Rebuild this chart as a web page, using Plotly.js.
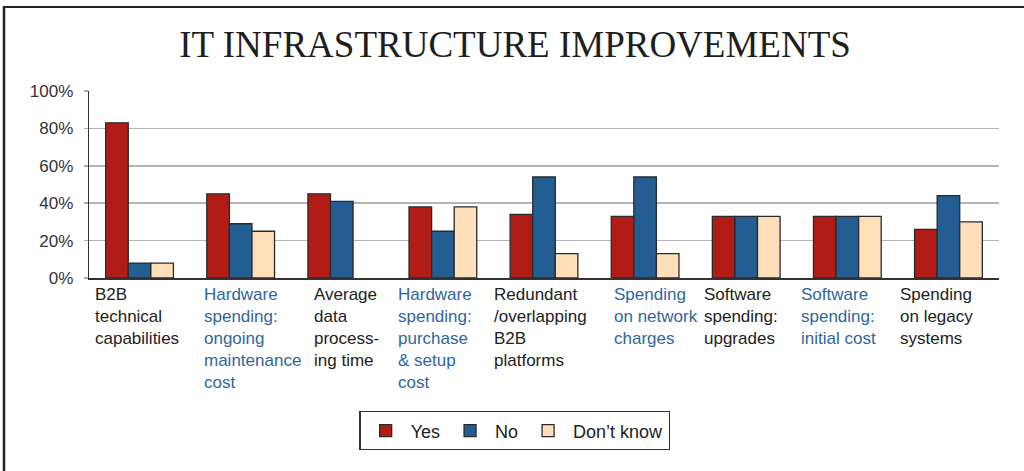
<!DOCTYPE html>
<html>
<head>
<meta charset="utf-8">
<script src="https://cdn.plot.ly/plotly-3.0.1.min.js"></script>
<style>html,body{margin:0;padding:0;background:#fff;}#chart{width:1024px;height:471px;}</style>
</head>
<body>
<div id="chart"></div>
<script>
const categories = [
  "B2B technical capabilities",
  "Hardware spending: ongoing maintenance cost",
  "Average data processing time",
  "Hardware spending: purchase & setup cost",
  "Redundant /overlapping B2B platforms",
  "Spending on network charges",
  "Software spending: upgrades",
  "Software spending: initial cost",
  "Spending on legacy systems"
];
const tickLabels = [
  "B2B<br>technical<br>capabilities",
  "Hardware<br>spending:<br>ongoing<br>maintenance<br>cost",
  "Average<br>data<br>process-<br>ing time",
  "Hardware<br>spending:<br>purchase<br>& setup<br>cost",
  "Redundant<br>/overlapping<br>B2B<br>platforms",
  "Spending<br>on network<br>charges",
  "Software<br>spending:<br>upgrades",
  "Software<br>spending:<br>initial cost",
  "Spending<br>on legacy<br>systems"
];
const yesValues = [83, 45, 45, 38, 34, 33, 33, 33, 26];
const noValues = [8, 29, 41, 25, 54, 54, 33, 33, 44];
const dontKnowValues = [8, 25, null, 38, 13, 13, 33, 33, 30];
const seriesNames = ["Yes", "No", "Don\u2019t know"];
const yTicks = [0, 20, 40, 60, 80, 100];

const colors = ["#B11C16", "#225E92", "#FFDFB9"];
const labelColors = ["#222222", "#2F66A0"];
const labelShift = [-47, -39, -30, -47, -52, -33, -44, -48, -50];

const seriesVals = [yesValues, noValues, dontKnowValues];
const traces = seriesVals.map((v, i) => ({
  type: "bar",
  name: seriesNames[i],
  x: categories,
  y: v,
  marker: {color: colors[i], line: {color: "#2a2a2a", width: 1.3}},
  hoverinfo: "skip"
}));

const annotations = categories.map((c, i) => ({
  xref: "x", yref: "paper",
  x: c, y: 0,
  xanchor: "left", yanchor: "top",
  xshift: labelShift[i], yshift: -5,
  align: "left",
  showarrow: false,
  text: tickLabels[i],
  font: {family: "Liberation Sans, Arial, sans-serif", size: 17, color: labelColors[i % 2]}
}));

const layout = {
  width: 1024, height: 471,
  margin: {l: 89, r: 25, t: 91, b: 193},
  paper_bgcolor: "#fff", plot_bgcolor: "#fff",
  title: {
    text: "IT INFRASTRUCTURE IMPROVEMENTS",
    font: {family: "Liberation Serif, Times New Roman, serif", size: 37, color: "#1e1e1e"},
    x: 0.503, xanchor: "center", xref: "container",
    y: 1 - 44/471, yanchor: "middle", yref: "container"
  },
  barmode: "group",
  bargap: 0.33,
  bargroupgap: 0,
  showlegend: true,
  legend: {
    orientation: "h",
    x: 0.468, xanchor: "center",
    y: -0.712, yanchor: "top",
    bordercolor: "#333", borderwidth: 1.3,
    font: {family: "Liberation Sans, Arial, sans-serif", size: 18, color: "#222"},
    itemwidth: 40,
    traceorder: "normal"
  },
  xaxis: {
    type: "category",
    showticklabels: false,
    showgrid: false,
    showline: true, linecolor: "#333", linewidth: 2,
    ticks: "", fixedrange: true
  },
  yaxis: {
    range: [0, 100],
    tickvals: yTicks,
    ticktext: yTicks.map(v => v + "%"),
    ticks: "outside", ticklen: 4, tickcolor: "#aaa", tickwidth: 1.5,
    ticklabelstandoff: 7,
    showgrid: true, gridcolor: "#b4b4b4", gridwidth: 1.5,
    showline: true, linecolor: "#333", linewidth: 1.3,
    zeroline: false,
    tickfont: {family: "Liberation Sans, Arial, sans-serif", size: 17, color: "#333"},
    fixedrange: true
  },
  annotations: annotations,
  shapes: [
    {type: "line", xref: "paper", yref: "paper",
     x0: (3-89)/910, x1: (1030-89)/910, y0: (278-7)/187, y1: (278-7)/187,
     line: {color: "#222", width: 2}},
    {type: "line", xref: "paper", yref: "paper",
     x0: (4-89)/910, x1: (4-89)/910, y0: (278-6)/187, y1: (278-480)/187,
     line: {color: "#222", width: 2.5}}
  ]
};

Plotly.newPlot("chart", traces, layout, {displayModeBar: false, staticPlot: true});
</script>
</body>
</html>
